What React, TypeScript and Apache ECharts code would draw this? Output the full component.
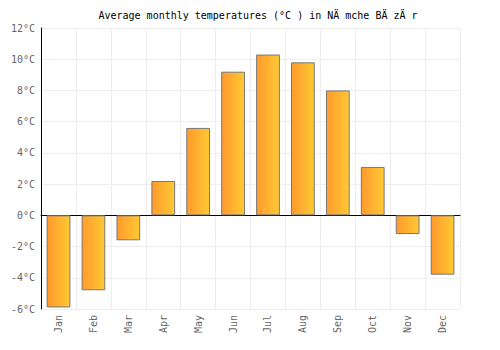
import React, { useEffect, useRef } from "react";
import * as echarts from "echarts";

const months = ["Jan", "Feb", "Mar", "Apr", "May", "Jun", "Jul", "Aug", "Sep", "Oct", "Nov", "Dec"];
const temps = [-5.9, -4.8, -1.6, 2.2, 5.6, 9.2, 10.3, 9.8, 8.0, 3.1, -1.2, -3.8];
const titleText = "Average monthly temperatures (°C ) in NÄ mche BÄ zÄ r";

export default function App() {
  const ref = useRef<HTMLDivElement>(null);
  useEffect(() => {
    const chart = echarts.init(ref.current!, null, { renderer: "svg" });
    const font = "'DejaVu Sans Mono', monospace";
    chart.setOption({
      animation: false,
      title: {
        text: titleText,
        left: "center",
        top: 2,
        padding: 0,
        textStyle: { fontFamily: font, fontSize: 10, fontWeight: "normal", color: "#000" },
      },
      grid: { left: 32, right: 48, top: 20, bottom: 49 },
      xAxis: {
        type: "category",
        data: months,
        axisLine: { onZero: true, lineStyle: { color: "#000", width: 1 } },
        axisTick: { show: false },
        axisLabel: { rotate: 90, fontFamily: font, fontSize: 10, color: "#666", margin: 6 },
        splitLine: { show: true, lineStyle: { color: "#eee" } },
      },
      yAxis: {
        type: "value",
        min: -6,
        max: 12,
        interval: 2,
        axisLine: { show: true, lineStyle: { color: "#000" } },
        axisTick: { show: false },
        axisLabel: { formatter: "{value}°C", fontFamily: font, fontSize: 10, color: "#666", margin: 6 },
        splitLine: { lineStyle: { color: "#eee" } },
      },
      series: [
        {
          type: "bar",
          data: temps,
          barWidth: "68%",
          itemStyle: {
            color: new echarts.graphic.LinearGradient(0, 0, 1, 0, [
              { offset: 0, color: "#ff9a2e" },
              { offset: 1, color: "#ffc933" },
            ]),
            borderColor: "#777",
            borderWidth: 1,
          },
        },
      ],
    });
    return () => chart.dispose();
  }, []);
  return <div ref={ref} style={{ width: 500, height: 350 }} />;
}
